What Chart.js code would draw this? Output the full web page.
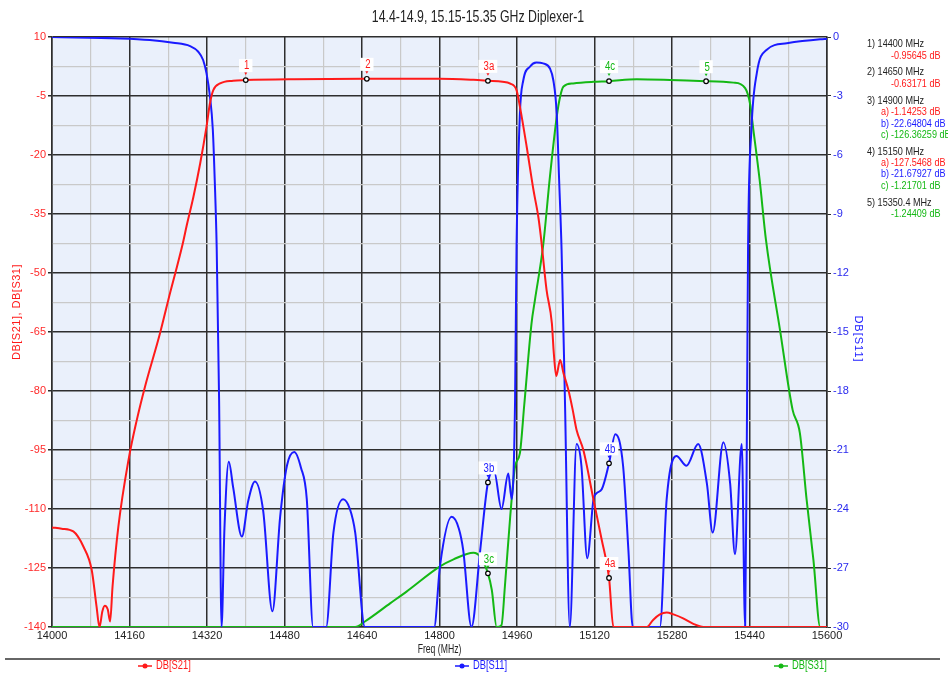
<!DOCTYPE html>
<html>
<head>
<meta charset="utf-8">
<script src="https://cdn.jsdelivr.net/npm/chart.js@4/dist/chart.umd.min.js"></script>
<style>
  html, body { margin: 0; padding: 0; background: #fff; }
  #wrap { width: 948px; height: 673px; position: relative; }
</style>
</head>
<body>
<div id="wrap"><canvas id="plot" width="948" height="673"></canvas></div>
<script>
// S21 (left axis, dB)
const s21Freq = [14000,14020,14044,14065,14082,14092,14098,14104,14109,14115,14120,14125,14137,14158,14175,14192,14223,14240,14270,14278,14292,14306,14319,14326,14333,14347,14374,14400,14500,14650,14800,14870,14900,14930,14945,14959,14966,14980,14994,15004,15009,15021,15032,15036,15041,15049,15056,15066,15075,15083,15097,15118,15135,15150,15159,15228,15241,15255,15269,15283,15303,15324,15345,15600];
const s21Db   = [-114.7,-115,-115.7,-119.6,-125.5,-134.8,-140,-136,-134.6,-135.5,-138.6,-129.7,-114.5,-97.5,-87.4,-78.9,-65.3,-56.9,-42.5,-38,-30.6,-22.1,-12.8,-6.9,-3.5,-1.8,-1.1,-0.96,-0.75,-0.63,-0.6,-0.9,-1.14,-1.4,-1.8,-3.5,-7.7,-17.9,-28.9,-35.7,-40.5,-54.3,-62.8,-70.4,-76.2,-72.1,-75.5,-79.7,-84.8,-89.9,-95,-107.7,-117.9,-127.5,-140,-140,-138.2,-136.8,-136.3,-136.8,-137.8,-139.2,-140,-140];

// S11 (right axis, dB)
const s11Freq = [14000,14140,14202,14250,14285,14302,14312,14319,14326,14332,14336,14340,14345,14350,14356,14365,14374,14392,14405,14419,14436,14455,14471,14485,14500,14514,14526,14539,14566,14581,14601,14615,14626,14646,14789,14801,14825,14840,14849,14866,14884,14900,14913,14928,14942,14949,14956,14959,14966,14973,14987,15000,15014,15028,15035,15042,15047,15052,15059,15069,15083,15093,15105,15118,15124,15135,15150,15163,15179,15190,15199,15255,15269,15289,15310,15334,15352,15364,15386,15400,15410,15424,15431,15435,15437,15444,15455,15475,15517,15586,15600];
const s11Db   = [0,-0.07,-0.15,-0.29,-0.46,-0.75,-1.17,-1.85,-3,-4.7,-7.3,-10.7,-18.5,-30,-25,-21.6,-22.9,-25.4,-23.6,-22.6,-24.1,-29.2,-24.4,-21.8,-21.1,-21.9,-23.5,-30,-30,-25.2,-23.5,-24,-25.2,-30,-30,-26.9,-24.4,-25,-26.1,-30,-26.1,-22.65,-22.1,-24,-22.2,-23.5,-18.5,-10.8,-3.9,-2.2,-1.5,-1.3,-1.34,-1.6,-2.2,-3.9,-7.3,-10.8,-18.5,-30,-20.7,-21.8,-26.5,-23.5,-23.2,-23,-21.68,-20.2,-21.8,-26.1,-30,-30,-23.5,-21.3,-21.8,-20.7,-22.7,-25.2,-20.6,-22.7,-26.3,-20.7,-30,-18.5,-10.8,-4.7,-1.85,-0.66,-0.32,-0.12,-0.1];

// S31 (left axis, dB)
const s31Freq = [14000,14626,14646,14698,14732,14801,14829,14870,14884,14900,14908,14918,14928,14935,14946,14956,14966,14975,14990,14997,15014,15028,15042,15049,15056,15076,15118,15150,15207,15276,15350,15407,15431,15441,15448,15461,15474,15503,15529,15544,15558,15572,15586,15600];
const s31Db   = [-140,-140,-138.6,-134,-131,-124.6,-122.8,-121.1,-122.1,-126.36,-130.6,-140,-139.5,-129.7,-111.9,-99.2,-95.8,-83.5,-62.8,-56.9,-43,-25.5,-10.3,-5.2,-2.6,-1.8,-1.4,-1.22,-0.75,-0.93,-1.24,-1.6,-3,-6.9,-13.6,-26.4,-41.6,-64.5,-84.8,-90.7,-107.7,-123,-140,-140];

// markers
const mkName   = ['1','2','3a','3b','3c','4a','4b','4c','5'];
const mkFreq   = [14400,14650,14900,14900,14900,15150,15150,15150,15350.4];
const mkDb     = [-0.95645,-0.63171,-1.14253,-22.64804,-126.36259,-127.5468,-21.67927,-1.21701,-1.24409];
const mkSeries = [0,0,0,1,2,0,1,2,2];

const seriesNames  = ['DB[S21]','DB[S11]','DB[S31]'];
const seriesColors = ['#ff1a1a','#1a1aff','#14b814'];
const seriesAxis   = ['y','y1','y'];

const FONT = '"Liberation Sans", Arial, sans-serif';
Chart.defaults.font.family = FONT;
Chart.defaults.font.size = 11;

function pts(f, v) { return f.map((x, i) => ({ x: x, y: v[i] })); }

// narrow text: the original uses a condensed face
function ntext(ctx, s, x, y, align, k) {
  ctx.save();
  ctx.translate(x, y);
  ctx.scale(k || 0.82, 1);
  ctx.textAlign = align;
  ctx.fillText(s, 0, 0);
  ctx.restore();
}

const dark = '#2e2e2e', light = '#c9c9c9';

const overlay = {
  id: 'overlay',
  beforeDraw(chart) {
    const { ctx, chartArea: a } = chart;
    ctx.save();
    ctx.fillStyle = '#eaf0fb';
    ctx.fillRect(a.left, a.top, a.right - a.left, a.bottom - a.top);
    ctx.restore();
  },
  afterDatasetsDraw(chart) {
    const ctx = chart.ctx;
    const xs = chart.scales.x;
    ctx.save();
    ctx.font = '12px ' + FONT;
    ctx.textBaseline = 'middle';
    mkName.forEach((n, i) => {
      const s = mkSeries[i];
      const px = xs.getPixelForValue(mkFreq[i]);
      const py = chart.scales[seriesAxis[s]].getPixelForValue(mkDb[i]);
      const w = ctx.measureText(n).width * 0.8 + 8;
      ctx.fillStyle = '#fff';
      ctx.fillRect(px - w / 2, py - 21, w, 13);
      ctx.fillStyle = seriesColors[s];
      ntext(ctx, n, px + 1, py - 14, 'center', 0.8);
      ctx.beginPath();
      ctx.moveTo(px - 1.5, py - 7.5); ctx.lineTo(px + 1.5, py - 7.5); ctx.lineTo(px, py - 5);
      ctx.closePath(); ctx.fill();
      ctx.beginPath();
      ctx.arc(px, py, 2.3, 0, Math.PI * 2);
      ctx.fillStyle = '#fff'; ctx.fill();
      ctx.lineWidth = 1.2; ctx.strokeStyle = '#000'; ctx.stroke();
    });
    ctx.restore();
  },
  afterDraw(chart) {
    const ctx = chart.ctx;
    const a = chart.chartArea;
    ctx.save();
    ctx.textBaseline = 'middle';
    // title
    ctx.fillStyle = '#222';
    ctx.font = '16px ' + FONT;
    ntext(ctx, '14.4-14.9, 15.15-15.35 GHz Diplexer-1', 478, 18, 'center', 0.77);
    // x title
    ctx.font = '12px ' + FONT;
    ntext(ctx, 'Freq (MHz)', (a.left + a.right) / 2, 650, 'center', 0.72);
    // left axis title
    ctx.font = '11px ' + FONT;
    ctx.save();
    ctx.translate(17, 312); ctx.rotate(-Math.PI / 2);
    ctx.textAlign = 'center';
    ctx.fillStyle = seriesColors[0];
    ctx.letterSpacing = '0.5px';
    ctx.fillText('DB[S21], DB[S31]', 0, 0);
    ctx.restore();
    // right axis title
    ctx.save();
    ctx.translate(858, 339); ctx.rotate(Math.PI / 2);
    ctx.textAlign = 'center';
    ctx.fillStyle = seriesColors[1];
    ctx.letterSpacing = '1px';
    ctx.fillText('DB[S11]', 0, 0);
    ctx.restore();

    // marker readout
    let y = 44;
    const groups = [];
    mkName.forEach((n, i) => {
      const g = n.charAt(0);
      let grp = groups.find(q => q.g === g);
      if (!grp) { grp = { g: g, f: mkFreq[i], items: [] }; groups.push(grp); }
      grp.items.push(i);
    });
    ctx.font = '11.5px ' + FONT;
    groups.forEach(grp => {
      ctx.fillStyle = '#222';
      ntext(ctx, grp.g + ') ' + grp.f + ' MHz', 867, y, 'left', 0.79);
      y += 11.5;
      grp.items.forEach(i => {
        const sub = mkName[i].charAt(1);
        ctx.fillStyle = seriesColors[mkSeries[i]];
        if (sub) ntext(ctx, sub + ')', 881, y, 'left', 0.79);
        ntext(ctx, mkDb[i] + ' dB', 891, y, 'left', 0.79);
        y += 11.3;
      });
      y += 5.5;
    });

    // legend
    ctx.strokeStyle = '#333'; ctx.lineWidth = 1.5;
    ctx.beginPath(); ctx.moveTo(5, 659); ctx.lineTo(940, 659); ctx.stroke();
    const lx = [145, 462, 781];
    ctx.font = '12px ' + FONT;
    seriesNames.forEach((n, i) => {
      ctx.strokeStyle = seriesColors[i]; ctx.fillStyle = seriesColors[i];
      ctx.lineWidth = 1.5;
      ctx.beginPath(); ctx.moveTo(lx[i] - 7, 666); ctx.lineTo(lx[i] + 7, 666); ctx.stroke();
      ctx.beginPath(); ctx.arc(lx[i], 666, 2.5, 0, Math.PI * 2); ctx.fill();
      ntext(ctx, n, lx[i] + 11, 666, 'left', 0.78);
    });
    ctx.restore();
  }
};

function gridColor(c) { return c.index % 2 === 0 ? dark : light; }
function gridWidth(c) { return c.index % 2 === 0 ? 1.5 : 1.2; }
function tickColor(c) { return c.index % 2 === 0 ? dark : 'rgba(0,0,0,0)'; }

new Chart(document.getElementById('plot'), {
  type: 'line',
  data: {
    datasets: [
      { label: seriesNames[0], data: pts(s21Freq, s21Db), yAxisID: 'y', borderColor: seriesColors[0] },
      { label: seriesNames[1], data: pts(s11Freq, s11Db), yAxisID: 'y1', borderColor: seriesColors[1] },
      { label: seriesNames[2], data: pts(s31Freq, s31Db), yAxisID: 'y', borderColor: seriesColors[2] }
    ]
  },
  options: {
    responsive: false,
    animation: false,
    devicePixelRatio: 1,
    layout: { padding: { top: 37, left: 0, right: 81, bottom: 26 } },
    elements: {
      point: { radius: 0 },
      line: { borderWidth: 2, cubicInterpolationMode: 'monotone' }
    },
    plugins: { legend: { display: false }, tooltip: { enabled: false } },
    scales: {
      x: {
        type: 'linear', min: 14000, max: 15600,
        afterFit: s => { s.height = 20; },
        ticks: { stepSize: 80, color: '#222', padding: 2, maxRotation: 0, autoSkip: false,
                 callback: (v, i) => i % 2 === 0 ? String(v) : '' },
        grid: { color: gridColor, lineWidth: gridWidth, drawTicks: false },
        border: { color: dark, width: 1.5 }
      },
      y: {
        position: 'left', min: -140, max: 10,
        afterFit: s => { s.width = 52; },
        ticks: { stepSize: 7.5, color: '#ff2a2a', padding: 2, autoSkip: false,
                 callback: (v, i) => i % 2 === 0 ? String(v) : '' },
        grid: { color: gridColor, lineWidth: gridWidth, tickLength: 4, tickColor: tickColor },
        border: { color: dark, width: 1.5 }
      },
      y1: {
        position: 'right', min: -30, max: 0,
        afterFit: s => { s.width = 40; },
        ticks: { stepSize: 3, color: '#2a2aee', padding: 2, autoSkip: false },
        grid: { drawOnChartArea: false, tickLength: 4, color: dark },
        border: { color: dark, width: 1.5 }
      }
    }
  },
  plugins: [overlay]
});
</script>
</body>
</html>
